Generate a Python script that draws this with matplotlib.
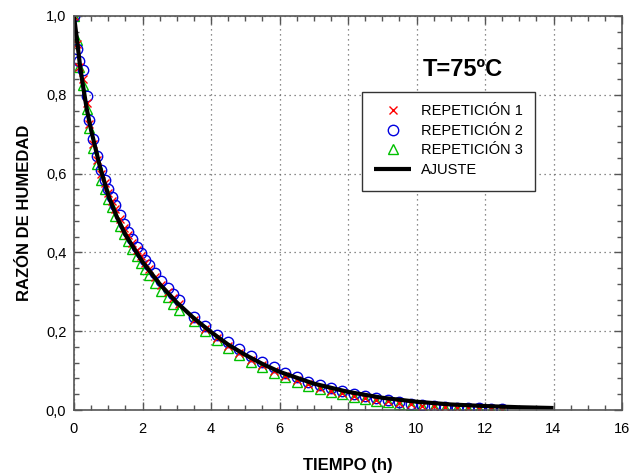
import matplotlib
matplotlib.use("Agg")
import matplotlib.pyplot as plt
from matplotlib.ticker import MultipleLocator, FuncFormatter
from matplotlib.patches import Rectangle

plt.rcParams['font.family'] = ['Liberation Sans', 'DejaVu Sans']

# time (h)
tiempo = [0, 0.08, 0.15, 0.27, 0.37, 0.45, 0.55, 0.67, 0.8, 0.9,
          1.0, 1.1, 1.2, 1.33, 1.45, 1.57, 1.7, 1.83, 1.95, 2.08,
          2.2, 2.37, 2.55, 2.73, 2.9, 3.07,
          3.5, 3.83, 4.17, 4.5, 4.83,
          5.17, 5.5, 5.83, 6.17, 6.5, 6.83, 7.17, 7.5, 7.83, 8.17,
          8.5, 8.83, 9.17, 9.5, 9.83, 10.17, 10.5, 10.83, 11.17, 11.5,
          11.83, 12.17, 12.5]

rep1 = [1.0, 0.93, 0.87, 0.84, 0.78, 0.725, 0.675, 0.635, 0.60, 0.575,
        0.55, 0.53, 0.51, 0.485, 0.462, 0.443, 0.424, 0.405, 0.39, 0.372,
        0.358, 0.338, 0.318, 0.300, 0.285, 0.268,
        0.228, 0.205, 0.183, 0.163, 0.145,
        0.128, 0.113, 0.098, 0.087, 0.076, 0.066, 0.057, 0.049, 0.042, 0.036,
        0.031, 0.026, 0.022, 0.018, 0.014, 0.011, 0.009, 0.007, 0.005, 0.004,
        0.003, 0.002, 0.001]

rep2 = [1.0, 0.917, 0.885, 0.863, 0.797, 0.737, 0.688, 0.645, 0.61, 0.585,
        0.56, 0.54, 0.52, 0.495, 0.472, 0.452, 0.433, 0.413, 0.398, 0.380,
        0.367, 0.348, 0.328, 0.310, 0.294, 0.278,
        0.236, 0.213, 0.19, 0.172, 0.155,
        0.138, 0.123, 0.108, 0.095, 0.084, 0.072, 0.063, 0.055, 0.048, 0.041,
        0.035, 0.030, 0.025, 0.020, 0.016, 0.012, 0.010, 0.008, 0.006, 0.005,
        0.004, 0.003, 0.002]

rep3 = [1.0, 0.94, 0.87, 0.825, 0.765, 0.715, 0.665, 0.625, 0.585, 0.56,
        0.535, 0.515, 0.493, 0.468, 0.447, 0.428, 0.408, 0.39, 0.374, 0.357,
        0.343, 0.323, 0.303, 0.286, 0.270, 0.254,
        0.225, 0.200, 0.178, 0.158, 0.140,
        0.123, 0.110, 0.095, 0.083, 0.072, 0.062, 0.054, 0.046, 0.040, 0.034,
        0.029, 0.024, 0.020, 0.016, 0.013, 0.010, 0.008, 0.006, 0.004, 0.003,
        0.002, 0.001, 0.000]

# fitted curve
t_ajuste = [0, 0.1, 0.175, 0.25, 0.37, 0.5, 0.75, 1.0, 1.25, 1.5, 2.0, 2.5, 3.0,
            3.5, 4.0, 4.5, 5.0, 5.5, 6.0, 7.0, 8.0, 9.0, 10.0, 11.0, 12.0, 13.0, 14.0]
mr_ajuste = [1.0, 0.93, 0.875, 0.83, 0.765, 0.71, 0.62, 0.545, 0.49, 0.445, 0.376, 0.320, 0.273,
             0.233, 0.198, 0.166, 0.140, 0.117, 0.097, 0.067, 0.046, 0.031, 0.021, 0.014, 0.010, 0.007, 0.005]

labels = ['REPETICIÓN 1', 'REPETICIÓN 2', 'REPETICIÓN 3', 'AJUSTE']

fig = plt.figure(figsize=(6.32, 4.73), dpi=100)
ax = fig.add_axes([74/632, 1-410/473, 548/632, 394/473])

h3, = ax.plot(tiempo, rep3, linestyle='none', marker='^', markersize=7.5,
              markerfacecolor='none', markeredgecolor='#00c000', markeredgewidth=1.0, label=labels[2])
h2, = ax.plot(tiempo, rep2, linestyle='none', marker='o', markersize=7.5,
              markerfacecolor='none', markeredgecolor='#0000e0', markeredgewidth=1.0, label=labels[1])
h1, = ax.plot(tiempo, rep1, linestyle='none', marker='x', markersize=6,
              color='#ff0000', markeredgewidth=1.0, label=labels[0])
h4, = ax.plot(t_ajuste, mr_ajuste, color='black', linewidth=3.0, label=labels[3],
              solid_capstyle='butt')

ax.set_xlim(0, 16)
ax.set_ylim(0, 1.0)
ax.xaxis.set_major_locator(MultipleLocator(2))
ax.xaxis.set_minor_locator(MultipleLocator(0.5))
ax.yaxis.set_major_locator(MultipleLocator(0.2))
ax.yaxis.set_minor_locator(MultipleLocator(0.04))
ax.xaxis.set_major_formatter(FuncFormatter(lambda v, p: f"{v:.0f}"))
ax.yaxis.set_major_formatter(FuncFormatter(lambda v, p: f"{v:.1f}".replace('.', ',')))

ax.tick_params(which='both', direction='in', top=True, right=True, color='#555555')
ax.tick_params(which='major', length=6, width=1, labelsize=10.5)
ax.tick_params(axis='x', which='major', pad=8.5)
ax.tick_params(axis='y', which='major', pad=5.5)
ax.tick_params(which='minor', length=3.5, width=1)
for s in ax.spines.values():
    s.set_color('#555555')
    s.set_linewidth(1.2)

ax.grid(True, which='major', linestyle=(0, (1, 3)), color='#666666', linewidth=0.9)
ax.set_axisbelow(True)

ax.set_xlabel('TIEMPO (h)', fontsize=12, fontweight='bold', labelpad=16)
ax.set_ylabel('RAZÓN DE HUMEDAD', fontsize=12, fontweight='bold', labelpad=10)

ax.text(0.709, 0.865, 'T=75ºC', transform=ax.transAxes, fontsize=17, fontweight='bold',
        ha='center', va='center')

# legend frame
ax.add_patch(Rectangle((288/548, 219/394), 173/548, 99/394, transform=ax.transAxes,
                       facecolor='white', edgecolor='#333333', linewidth=1.0, zorder=4))
leg = ax.legend(handles=[h1, h2, h3, h4], loc='upper left', bbox_to_anchor=(288/548, 318/394),
                fontsize=10.5, frameon=False,
                borderpad=0.85, labelspacing=0.38, handlelength=2.5, handletextpad=0.7,
                borderaxespad=0)
leg.set_zorder(5)

fig.savefig('out.png', dpi=100)
